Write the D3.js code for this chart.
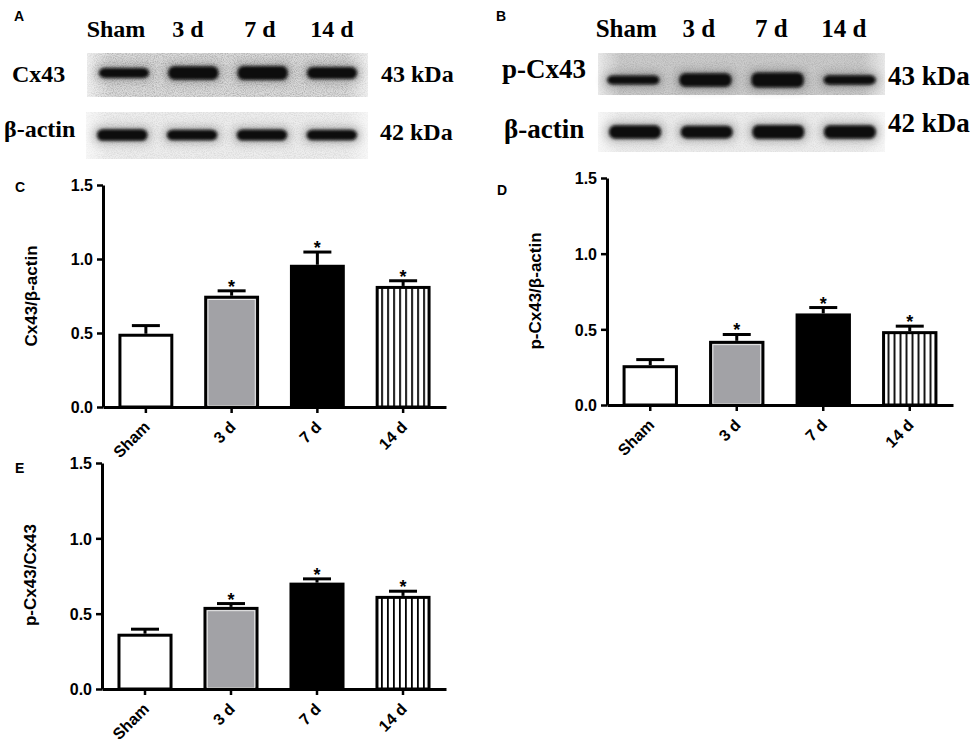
<!DOCTYPE html>
<html><head><meta charset="utf-8">
<script src="https://cdn.jsdelivr.net/npm/d3@7"></script>
<style>
html,body{margin:0;padding:0;background:#fff;}
svg{display:block;}
</style></head>
<body>
<svg id="fig" width="976" height="748"></svg>
<script>
// ---------------- DATA ----------------
const categories = ["Sham", "3 d", "7 d", "14 d"];
const yTicks = [0, 0.5, 1.0, 1.5];
const significance = ["", "*", "*", "*"];

const cx43Mean = [0.495, 0.752, 0.961, 0.818];
const cx43Sem  = [0.055, 0.033, 0.086, 0.035];

const pcx43Mean = [0.263, 0.424, 0.605, 0.488];
const pcx43Sem  = [0.037, 0.042, 0.039, 0.033];

const ratioMean = [0.367, 0.545, 0.706, 0.618];
const ratioSem  = [0.030, 0.022, 0.025, 0.031];

// relative band intensity on the blots
const blotA_cx43  = [0.70, 0.95, 1.00, 0.85];
const blotA_actin = [0.90, 0.80, 0.85, 0.82];
const blotB_pcx43 = [0.60, 0.90, 1.00, 0.62];
const blotB_actin = [0.90, 0.85, 0.92, 0.90];

// ---------------- DRAW ----------------
const svg = d3.select("#fig");
const defs = svg.append("defs");

const nf = defs.append("filter").attr("id","noise").attr("x",0).attr("y",0).attr("width","100%").attr("height","100%");
nf.append("feTurbulence").attr("type","fractalNoise").attr("baseFrequency","0.9").attr("numOctaves",2).attr("seed",7).attr("result","t");
nf.append("feColorMatrix").attr("in","t").attr("type","matrix")
  .attr("values","0 0 0 0 0  0 0 0 0 0  0 0 0 0 0  1.2 0 0 0 -0.45");
const bl = defs.append("filter").attr("id","blur").attr("x","-30%").attr("y","-80%").attr("width","160%").attr("height","260%");
bl.append("feGaussianBlur").attr("stdDeviation","1.8");
const bl2 = defs.append("filter").attr("id","blur2").attr("x","-30%").attr("y","-100%").attr("width","160%").attr("height","300%");
bl2.append("feGaussianBlur").attr("stdDeviation","4");
const edge = defs.append("linearGradient").attr("id","edgeFade").attr("x1",0).attr("x2",1);
edge.append("stop").attr("offset","0").attr("stop-color","#fff").attr("stop-opacity",0.6);
edge.append("stop").attr("offset","0.08").attr("stop-color","#fff").attr("stop-opacity",0);
edge.append("stop").attr("offset","0.92").attr("stop-color","#fff").attr("stop-opacity",0);
edge.append("stop").attr("offset","1").attr("stop-color","#fff").attr("stop-opacity",0.6);

const serif = "'Liberation Serif','Times New Roman',serif";
const sans = "'Liberation Sans',Arial,Helvetica,sans-serif";

function panelLetter(t, x, y){
  svg.append("text").attr("x",x).attr("y",y).text(t)
    .style("font-family",sans).style("font-weight","bold").style("font-size","14px").attr("fill","#000");
}

function blot(g, opt){
  const lane = d3.scaleBand().domain(categories).range(opt.laneRange).paddingInner(0.22).paddingOuter(0.1);
  const b = g.append("g");
  b.append("rect").attr("x",opt.x0).attr("y",opt.y0).attr("width",opt.x1-opt.x0).attr("height",opt.y1-opt.y0)
    .attr("fill",opt.bg);
  b.append("rect").attr("x",opt.x0).attr("y",opt.y0).attr("width",opt.x1-opt.x0).attr("height",opt.y1-opt.y0)
    .attr("fill","#000").attr("filter","url(#noise)").attr("opacity",opt.noise);
  b.append("rect").attr("x",opt.x0).attr("y",opt.y0).attr("width",opt.x1-opt.x0).attr("height",opt.y1-opt.y0)
    .attr("fill","url(#edgeFade)");
  b.selectAll("rect.halo").data(opt.values).join("rect").attr("class","halo")
    .attr("x",(d,i)=>lane(categories[i])-2).attr("width",lane.bandwidth()+4)
    .attr("y",d=>opt.cy-(opt.h*d+6)/2).attr("height",d=>opt.h*d+6)
    .attr("rx",8).attr("fill","#333").attr("opacity",0.3).attr("filter","url(#blur2)");
  b.selectAll("rect.band").data(opt.values).join("rect").attr("class","band")
    .attr("x",(d,i)=>lane(categories[i])+2).attr("width",lane.bandwidth()-4)
    .attr("y",d=>opt.cy-opt.h*d/2).attr("height",d=>opt.h*d)
    .attr("rx",6).attr("fill","#080808").attr("filter","url(#blur)");
}

function blotPanel(opt){
  const g = svg.append("g");
  const lab = d3.scaleBand().domain(categories).range(opt.labelRange);
  g.selectAll("text.col").data(categories).join("text").attr("class","col")
    .attr("x",d=>lab(d)+lab.bandwidth()/2).attr("y",37).attr("text-anchor","middle")
    .style("font-family",serif).style("font-weight","bold").style("font-size",opt.colFont+"px").text(d=>d);
  opt.rows.forEach(r=>{
    blot(g, r);
    g.append("text").attr("x",r.labelX).attr("y",r.labelY).text(r.name)
      .style("font-family",serif).style("font-weight","bold").style("font-size",opt.rowFont+"px");
    g.append("text").attr("x",r.kdaX).attr("y",r.kdaY).text(r.kda)
      .style("font-family",serif).style("font-weight","bold").style("font-size",opt.rowFont+"px");
  });
}

panelLetter("A", 14, 21);
blotPanel({
  labelRange:[80,368], colFont:24, rowFont:24,
  rows:[
    {name:"Cx43", labelX:12, labelY:82, kda:"43 kDa", kdaX:381, kdaY:82,
     x0:87,x1:368,y0:53,y1:97,bg:"#dadada",noise:0.35,cy:73,h:14,values:blotA_cx43,laneRange:[90,366]},
    {name:"β-actin", labelX:4, labelY:137, kda:"42 kDa", kdaX:380, kdaY:140,
     x0:86,x1:368,y0:112,y1:159,bg:"#ededed",noise:0.15,cy:135,h:13,values:blotA_actin,laneRange:[88,366]}
  ]
});

panelLetter("B", 496, 21);
blotPanel({
  labelRange:[590,880], colFont:25, rowFont:27,
  rows:[
    {name:"p-Cx43", labelX:502, labelY:78, kda:"43 kDa", kdaX:888, kdaY:85,
     x0:598,x1:885,y0:53,y1:95,bg:"#cbcbcb",noise:0.2,cy:80,h:15,values:blotB_pcx43,laneRange:[598,885]},
    {name:"β-actin", labelX:504, labelY:138, kda:"42 kDa", kdaX:888, kdaY:132,
     x0:598,x1:885,y0:112,y1:152,bg:"#ececec",noise:0.1,cy:132,h:15,values:blotB_actin,laneRange:[600,885]}
  ]
});

// ---------- bar charts ----------
function barChart(opt){
  const g = svg.append("g");
  const x = d3.scaleBand().domain(categories).range([opt.x0, opt.x1]).paddingInner(0.36).paddingOuter(0.18);
  const y = d3.scaleLinear().domain([0,1.5]).range([opt.yb, opt.yt]);
  const bw = x.bandwidth();
  const pid = "hatch"+opt.id;
  const pat = defs.append("pattern").attr("id",pid).attr("patternUnits","userSpaceOnUse")
    .attr("width",6).attr("height",10).attr("x",x(categories[3])+1.5);
  pat.append("rect").attr("width",6).attr("height",10).attr("fill","#fff");
  pat.append("rect").attr("x",4).attr("width",1.8).attr("height",10).attr("fill","#000");

  const fills = ["#fff","#a2a2a6","#000","url(#"+pid+")"];
  const data = opt.mean.map((m,i)=>({c:categories[i], m, e:opt.sem[i], s:significance[i], f:fills[i]}));

  g.selectAll("line.eb").data(data).join("line").attr("class","eb")
    .attr("x1",d=>x(d.c)+bw/2).attr("x2",d=>x(d.c)+bw/2)
    .attr("y1",d=>y(d.m)).attr("y2",d=>y(d.m+d.e)).attr("stroke","#000").attr("stroke-width",3);
  g.selectAll("line.cap").data(data).join("line").attr("class","cap")
    .attr("x1",d=>x(d.c)+bw/2-14).attr("x2",d=>x(d.c)+bw/2+14)
    .attr("y1",d=>y(d.m+d.e)).attr("y2",d=>y(d.m+d.e)).attr("stroke","#000").attr("stroke-width",3);

  g.selectAll("rect.bar").data(data).join("rect").attr("class","bar")
    .attr("x",d=>x(d.c)+1.5).attr("width",bw-3)
    .attr("y",d=>y(d.m)+1.5).attr("height",d=>y(0)-y(d.m)-1.5)
    .attr("fill",d=>d.f).attr("stroke","#000").attr("stroke-width",3);
  g.selectAll("rect.inner").data(data.filter((d,i)=>i===1)).join("rect").attr("class","inner")
    .attr("x",d=>x(d.c)+3.8).attr("width",bw-7.6)
    .attr("y",d=>y(d.m)+3.8).attr("height",d=>y(0)-y(d.m)-5)
    .attr("fill","none").attr("stroke","#e8e8e8").attr("stroke-width",1);

  g.selectAll("text.sig").data(data).join("text").attr("class","sig")
    .attr("x",d=>x(d.c)+bw/2).attr("y",d=>y(d.m+d.e)+2).attr("text-anchor","middle")
    .style("font-family",sans).style("font-weight","bold").style("font-size","18px").text(d=>d.s);

  const ya = g.append("g").attr("transform",`translate(${opt.x0},0)`)
    .call(d3.axisLeft(y).tickValues(yTicks).tickFormat(d3.format(".1f")).tickSize(6).tickSizeOuter(0).tickPadding(4));
  const xa = g.append("g").attr("transform",`translate(0,${opt.yb})`)
    .call(d3.axisBottom(x).tickSize(6).tickSizeOuter(0).tickFormat(""));
  [ya,xa].forEach(a=>{
    a.attr("font-size",null).attr("font-family",null);
    a.select(".domain").attr("stroke","#000").attr("stroke-width",3);
    a.selectAll(".tick line").attr("stroke","#000").attr("stroke-width",2.5);
  });
  ya.selectAll(".tick text").attr("dy","0.36em")
    .style("font-family",sans).style("font-weight","bold").style("font-size","16px").attr("fill","#000");
  xa.selectAll(".tick text").remove();

  g.selectAll("text.xlab").data(categories).join("text").attr("class","xlab")
    .attr("transform",d=>`translate(${x(d)+bw/2+5},${opt.yb+21}) rotate(-45)`)
    .attr("text-anchor","end")
    .style("font-family",sans).style("font-weight","bold").style("font-size","16px").attr("fill","#000")
    .text(d=>d);

  g.append("text").attr("transform",`translate(${opt.labX},${opt.labY}) rotate(-90)`)
    .attr("text-anchor","middle").style("font-family",sans).style("font-weight","bold").style("font-size","17px")
    .text(opt.label);
}

panelLetter("C", 15, 192);
barChart({id:"C", x0:103, x1:446, yb:407, yt:185, mean:cx43Mean, sem:cx43Sem, label:"Cx43/β-actin", labX:37, labY:296});
panelLetter("D", 497, 195);
barChart({id:"D", x0:607, x1:953, yb:405, yt:178, mean:pcx43Mean, sem:pcx43Sem, label:"p-Cx43/β-actin", labX:541, labY:291});
panelLetter("E", 15, 473);
barChart({id:"E", x0:102, x1:446, yb:689, yt:463, mean:ratioMean, sem:ratioSem, label:"p-Cx43/Cx43", labX:36, labY:575});
</script>
</body></html>
